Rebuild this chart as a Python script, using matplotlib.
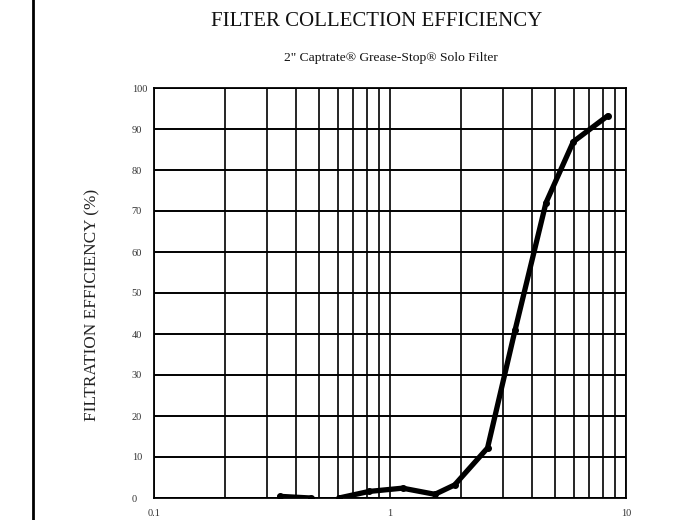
import numpy as np
import matplotlib
matplotlib.use("Agg")
import matplotlib.pyplot as plt
from matplotlib.lines import Line2D

# Data (particle size in microns, efficiency in %)
particle_size = [0.342, 0.461, None, 0.608, 0.815, 1.13, 1.55, 1.88, 2.59, 3.39, 4.58, 5.98, 8.36]
efficiency    = [0.4,   0.0,   None, 0.0,   1.6,   2.4,  0.9,  3.2,  12.2, 41.0, 72.0, 86.9, 93.2]
y_ticks = [0, 10, 20, 30, 40, 50, 60, 70, 80, 90, 100]
x_ticks = [0.1, 1, 10]
x_tick_labels = ["0.1", "1", "10"]

title = "FILTER COLLECTION EFFICIENCY"
subtitle = "2\" Captrate\u00AE Grease-Stop\u00AE Solo Filter"
ylabel = "FILTRATION EFFICIENCY (%)"

plt.rcParams['font.family'] = ['Liberation Serif', 'DejaVu Serif']

fig = plt.figure(figsize=(6.85, 5.2), dpi=100)
ax = fig.add_axes([154/685, 22/520, (626-154)/685, (498-88)/520])

xs = np.array([np.nan if v is None else v for v in particle_size], dtype=float)
ys = np.array([np.nan if v is None else v for v in efficiency], dtype=float)

ax.set_xscale('log')
ax.set_xlim(0.1, 10)
ax.set_ylim(0, 100)

# grid
ax.set_xticks(x_ticks)
ax.set_xticklabels(x_tick_labels)
ax.set_xticks([m * d for d in (0.1, 1) for m in range(2, 10)], minor=True)
ax.xaxis.set_minor_formatter(matplotlib.ticker.NullFormatter())
ax.set_yticks(y_ticks)
ax.grid(True, which='both', axis='x', color='black', linewidth=1.2)
ax.grid(True, which='major', axis='y', color='black', linewidth=1.4)
ax.tick_params(axis='both', which='both', length=0)
ax.tick_params(axis='y', pad=16, labelsize=7.5, labelcolor='#333333')
ax.tick_params(axis='x', pad=8, labelsize=7.5, labelcolor='#333333')
for lbl in ax.get_yticklabels():
    lbl.set_horizontalalignment('left')
    lbl.set_verticalalignment('center_baseline')
for s in ax.spines.values():
    s.set_linewidth(1.3)
    s.set_color('black')

ax.plot(xs, ys, color='black', linewidth=3.8, solid_joinstyle='round',
        solid_capstyle='round', marker='o', markersize=4, zorder=5)

ax.set_ylabel(ylabel, fontsize=12.4, color='#222222')
ax.yaxis.set_label_coords((100 - 154) / 472, (498 - 305) / 410)

fig.text(377/685, 1 - 22/520, title, ha='center', va='center', fontsize=15, color='#111111')
fig.text(391/685, 1 - 58/520, subtitle, ha='center', va='center', fontsize=9.7, color='#111111')

fig.add_artist(Line2D([33/685, 33/685], [0, 1], transform=fig.transFigure,
                      color='black', linewidth=2))

fig.savefig("out.png", dpi=100)
